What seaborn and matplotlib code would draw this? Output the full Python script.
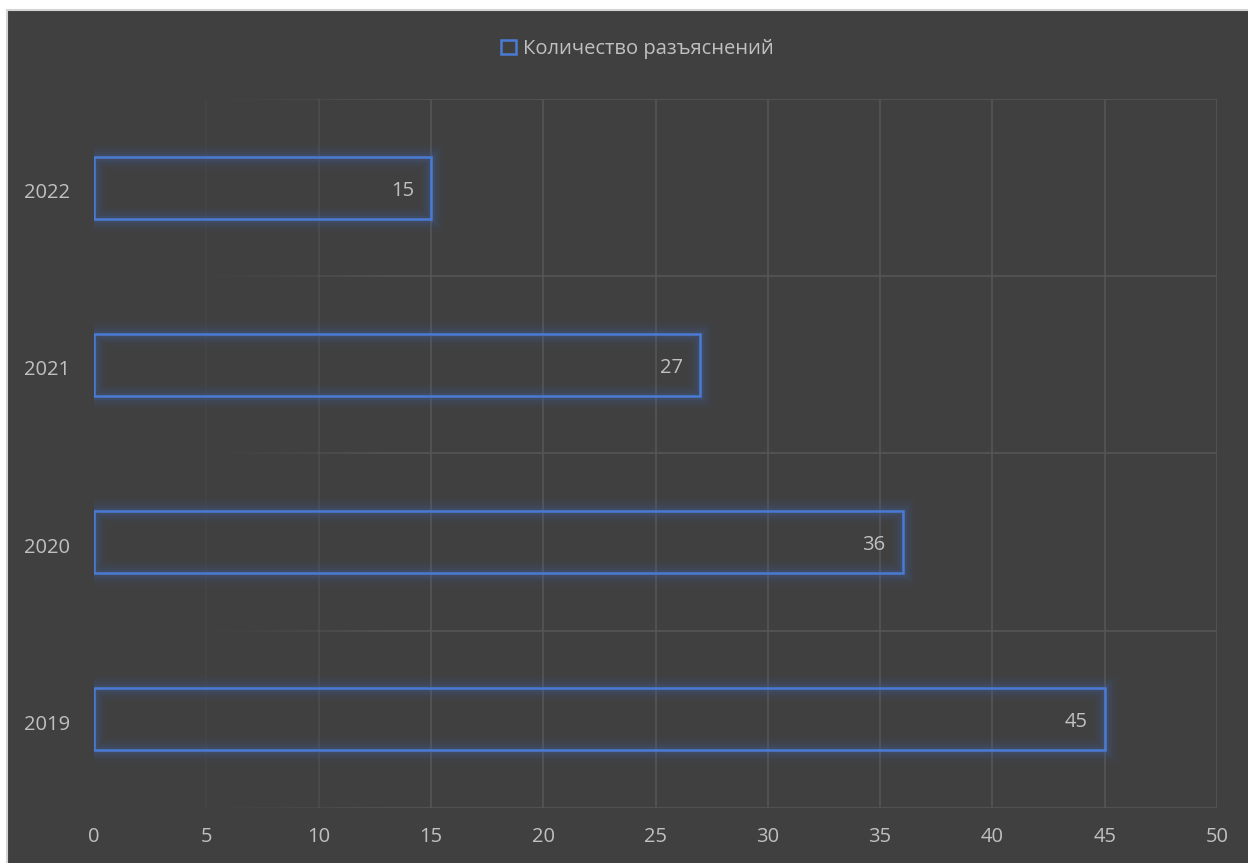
import numpy as np
import pandas as pd
import matplotlib
matplotlib.use("Agg")
import matplotlib.pyplot as plt
import matplotlib.transforms as mtransforms
from matplotlib.patches import Rectangle, Patch
from matplotlib.collections import LineCollection
import seaborn as sns

years = ["2022", "2021", "2020", "2019"]
counts = [15, 27, 36, 45]
series_name = "Количество разъяснений"
x_ticks = [0, 5, 10, 15, 20, 25, 30, 35, 40, 45, 50]

BG = "#404040"
TEXT = "#c0c0c0"
GRID = "#555555"
BLUE = "#4a7bd4"

sns.set_theme(style="dark")
plt.rcParams["font.family"] = ["Open Sans", "DejaVu Sans"]

df = pd.DataFrame({"year": years, "count": counts})

fig = plt.figure(figsize=(12.48, 8.63), dpi=100, facecolor="white")
fig.patches.append(Rectangle((7 / 1248, -0.01), 1.02, (863 - 10) / 863 + 0.01,
                             transform=fig.transFigure, facecolor=BG,
                             edgecolor="#d4d4d4", linewidth=1.5, zorder=-10))

ax = fig.add_axes([94 / 1248, 1 - 808 / 863, (1217 - 94) / 1248, (808 - 99) / 863])
ax.set_facecolor("none")

sns.barplot(data=df, x="count", y="year", order=years, orient="h",
            width=0.35, fill=False, color=BLUE, linewidth=1.8,
            label=series_name, ax=ax, zorder=3)

ax.set_xlim(0, 50)
ax.set_ylim(3.5, -0.5)

# soft gridlines that fade in from the left
def faded_hline(y):
    xs = np.linspace(0, 50, 400)
    segs = [[(xs[i], y), (xs[i + 1], y)] for i in range(len(xs) - 1)]
    alphas = np.clip((xs[:-1] - 4) / 9, 0, 1) ** 1.5
    cols = [matplotlib.colors.to_rgba(GRID, a) for a in alphas]
    ax.add_collection(LineCollection(segs, colors=cols, linewidths=1.2, zorder=1))

for yb in np.arange(-0.5, len(years), 1.0):
    faded_hline(yb)
for xv in x_ticks[1:]:
    a = {5: 0.2, 10: 0.6}.get(xv, 1.0)
    ax.plot([xv, xv], [-0.5, 3.5], color=GRID, alpha=a, lw=1.2, zorder=1)

# glow around each bar outline
for bar in list(ax.patches):
    x0, y0, w, h = bar.get_x(), bar.get_y(), bar.get_width(), bar.get_height()
    for lw, al in [(18, 0.04), (13, 0.06), (9, 0.09), (5, 0.13)]:
        ax.add_patch(Rectangle((x0, y0), w, h, fill=False, edgecolor="#3f6cc0",
                               linewidth=lw, alpha=al, zorder=2))

# value labels inside the bar ends
for i, v in enumerate(counts):
    ax.annotate(str(v), xy=(v, i), xytext=(-12.2, -2.2), textcoords="offset points",
                ha="right", va="center", color=TEXT, fontsize=14.5, zorder=4)

ax.set_xticks(x_ticks)
ax.set_xticklabels([str(t) for t in x_ticks])
ax.tick_params(axis="x", colors=TEXT, labelsize=14.5, pad=14, length=0)
ax.tick_params(axis="y", colors=TEXT, labelsize=14.5, pad=17, length=0)
shift_down = mtransforms.ScaledTranslation(0, -3 / 100, fig.dpi_scale_trans)
for lbl in ax.get_yticklabels():
    lbl.set_transform(lbl.get_transform() + shift_down)
ax.set_xlabel("")
ax.set_ylabel("")
ax.grid(False)
for s in ax.spines.values():
    s.set_visible(False)

handle = Patch(facecolor="none", edgecolor=BLUE, linewidth=1.8)
if ax.get_legend() is not None:
    ax.get_legend().remove()
fig.legend([handle], [series_name], loc="center", bbox_to_anchor=(637 / 1248, 1 - 49 / 863),
           frameon=False, fontsize=14.5, labelcolor=TEXT, handlelength=0.75,
           handleheight=0.75, handletextpad=0.35)

fig.savefig("out.png", dpi=100, facecolor=fig.get_facecolor())
